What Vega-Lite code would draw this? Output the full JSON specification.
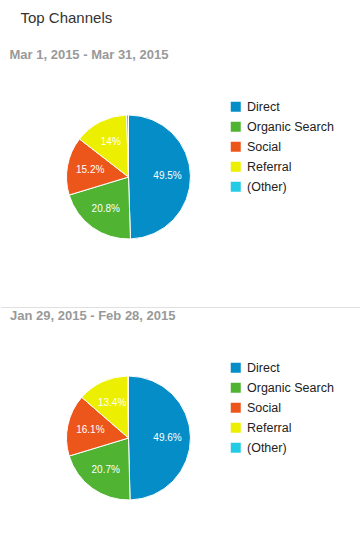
{
  "$schema": "https://vega.github.io/schema/vega-lite/v6.json",
  "padding": {"top": 11, "left": 0, "right": 0, "bottom": 0},
  "background": "white",
  "config": {
    "view": {"stroke": null},
    "font": "Liberation Sans",
    "concat": {"spacing": 2},
    "legend": {
      "orient": "none",
      "legendX": 228.5,
      "legendY": 29.5,
      "title": null,
      "symbolType": "square",
      "symbolSize": 100,
      "symbolStrokeWidth": 0,
      "symbolOpacity": 1,
      "labelFont": "Liberation Sans",
      "labelFontSize": 12.5,
      "labelColor": "#222",
      "labelOffset": 5,
      "rowPadding": 7,
      "padding": 0
    }
  },
  "title": {
    "text": "Top Channels",
    "anchor": "start",
    "dx": 20,
    "fontSize": 15,
    "font": "Liberation Sans",
    "fontWeight": "normal",
    "color": "#333",
    "baseline": "alphabetic",
    "offset": 11
  },
  "datasets": {
    "mar": [
      {"channel": "Direct", "rank": 1, "share": 0.495},
      {"channel": "Organic Search", "rank": 2, "share": 0.208},
      {"channel": "Social", "rank": 3, "share": 0.152},
      {"channel": "Referral", "rank": 4, "share": 0.14},
      {"channel": "(Other)", "rank": 5, "share": 0.005}
    ],
    "feb": [
      {"channel": "Direct", "rank": 1, "share": 0.496},
      {"channel": "Organic Search", "rank": 2, "share": 0.207},
      {"channel": "Social", "rank": 3, "share": 0.161},
      {"channel": "Referral", "rank": 4, "share": 0.134},
      {"channel": "(Other)", "rank": 5, "share": 0.002}
    ]
  },
  "vconcat": [
    {
      "title": {"text": "Mar 1, 2015 - Mar 31, 2015", "anchor": "start", "dx": 9, "fontSize": 13, "fontWeight": "bold", "color": "#999", "font": "Liberation Sans", "baseline": "alphabetic", "offset": -1},
      "width": 255,
      "height": 212,
      "layer": [
        {
          "data": {"name": "mar"},
          "mark": {"type": "arc", "radius": 62, "stroke": "#ffffff", "strokeWidth": 1},
          "encoding": {
            "theta": {"field": "share", "type": "quantitative", "stack": true},
            "order": {"field": "rank", "type": "quantitative"},
            "color": {
              "field": "channel",
              "type": "nominal",
              "scale": {"domain": ["Direct", "Organic Search", "Social", "Referral", "(Other)"], "range": ["#058dc7", "#50b432", "#ed561b", "#edef00", "#24cbe5"]}
            }
          }
        },
        {
          "data": {"name": "mar"},
          "transform": [{"filter": "datum.share >= 0.01"}],
          "mark": {"type": "text", "radius": 39, "fill": "#ffffff", "fontSize": 10, "font": "Liberation Sans"},
          "encoding": {
            "theta": {"field": "share", "type": "quantitative", "stack": true},
            "order": {"field": "rank", "type": "quantitative"},
            "text": {"field": "share", "type": "quantitative", "format": ".1~%"}
          }
        },
        {
          "data": {"values": [{"divider": 1}]},
          "mark": {"type": "rule", "color": "#e0e0e0", "strokeWidth": 1},
          "encoding": {"x": {"value": 0}, "x2": {"value": 360}, "y": {"value": 236.5}}
        }
      ]
    },
    {
      "title": {"text": "Jan 29, 2015 - Feb 28, 2015", "anchor": "start", "dx": 9, "fontSize": 13, "fontWeight": "bold", "color": "#999", "font": "Liberation Sans", "baseline": "alphabetic", "offset": -1},
      "width": 255,
      "height": 212,
      "layer": [
        {
          "data": {"name": "feb"},
          "mark": {"type": "arc", "radius": 62, "stroke": "#ffffff", "strokeWidth": 1},
          "encoding": {
            "theta": {"field": "share", "type": "quantitative", "stack": true},
            "order": {"field": "rank", "type": "quantitative"},
            "color": {
              "field": "channel",
              "type": "nominal",
              "scale": {"domain": ["Direct", "Organic Search", "Social", "Referral", "(Other)"], "range": ["#058dc7", "#50b432", "#ed561b", "#edef00", "#24cbe5"]}
            }
          }
        },
        {
          "data": {"name": "feb"},
          "transform": [{"filter": "datum.share >= 0.01"}],
          "mark": {"type": "text", "radius": 39, "fill": "#ffffff", "fontSize": 10, "font": "Liberation Sans"},
          "encoding": {
            "theta": {"field": "share", "type": "quantitative", "stack": true},
            "order": {"field": "rank", "type": "quantitative"},
            "text": {"field": "share", "type": "quantitative", "format": ".1~%"}
          }
        }
      ]
    }
  ],
  "resolve": {"scale": {"color": "independent"}, "legend": {"color": "independent"}}
}
